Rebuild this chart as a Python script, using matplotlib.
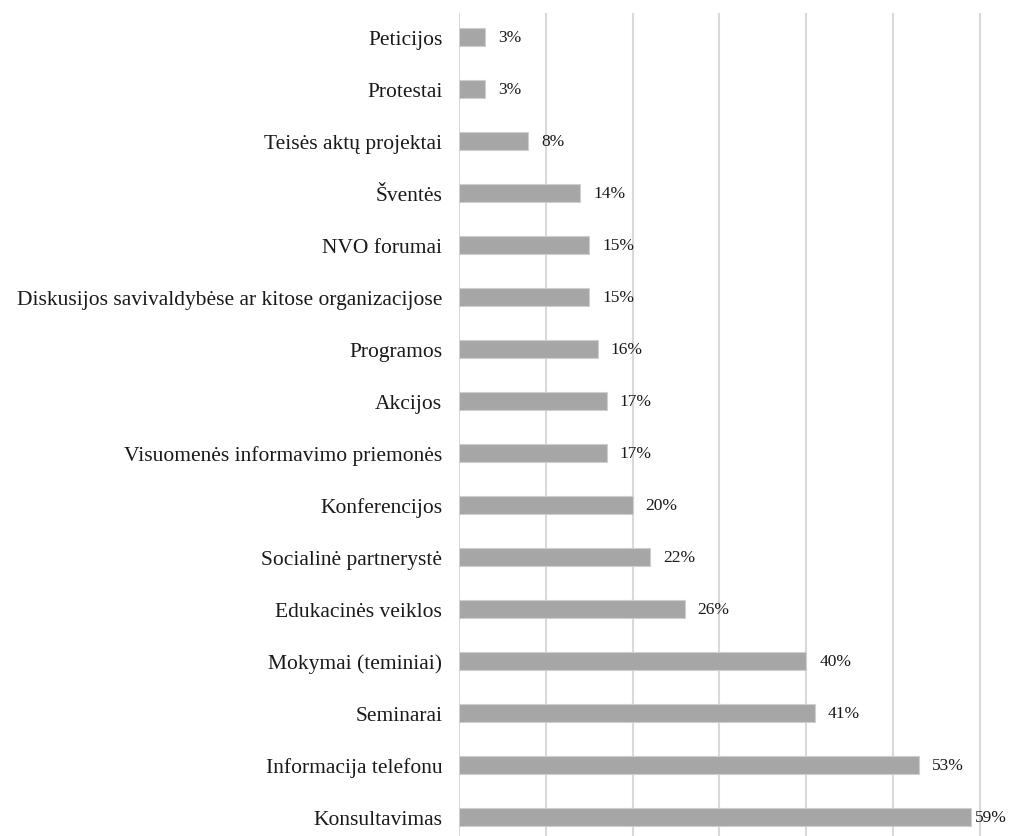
import matplotlib.pyplot as plt

categories = ['Peticijos', 'Protestai', 'Teisės aktų projektai', 'Šventės',
              'NVO forumai', 'Diskusijos savivaldybėse ar kitose organizacijose',
              'Programos', 'Akcijos', 'Visuomenės informavimo priemonės',
              'Konferencijos', 'Socialinė partnerystė', 'Edukacinės veiklos',
              'Mokymai (teminiai)', 'Seminarai', 'Informacija telefonu',
              'Konsultavimas']
values = [3, 3, 8, 14, 15, 15, 16, 17, 17, 20, 22, 26, 40, 41, 53, 59]

plt.rcParams['font.family'] = ['Liberation Serif', 'DejaVu Serif']

fig = plt.figure(figsize=(10.17, 8.37), dpi=100)
ax = fig.add_axes([459 / 1017, 0, 1 - 459 / 1017, 1 - 14 / 837])

ypos = list(range(len(categories)))
ax.barh(ypos, values, height=0.35, color='#a6a6a6', edgecolor='#cfcfcf',
        linewidth=0.8, zorder=2)

# value labels; the last one sits tight against the bar (cropped original)
for y, v in zip(ypos, values):
    off = 0.4 if v == max(values) else 1.5
    ax.text(v + off, y, f'{v}%', va='center', ha='left', fontsize=12.5,
            color='#1a1a1a', zorder=3)

ax.set_xlim(0, 64.3)
ax.set_ylim(15 + 19 / 52, -24 / 52)
ax.set_xticks(range(0, 70, 10))
ax.xaxis.grid(True, color='#d9d9d9', linewidth=1.5, zorder=0)
ax.set_axisbelow(True)
ax.tick_params(axis='x', length=0, labelbottom=False)
ax.tick_params(axis='y', length=0, pad=12)
ax.set_yticks(ypos)
ax.set_yticklabels(categories, fontsize=15.5, color='#1a1a1a')
for s in ax.spines.values():
    s.set_visible(False)

plt.savefig('out.png', dpi=100)
plt.close()
